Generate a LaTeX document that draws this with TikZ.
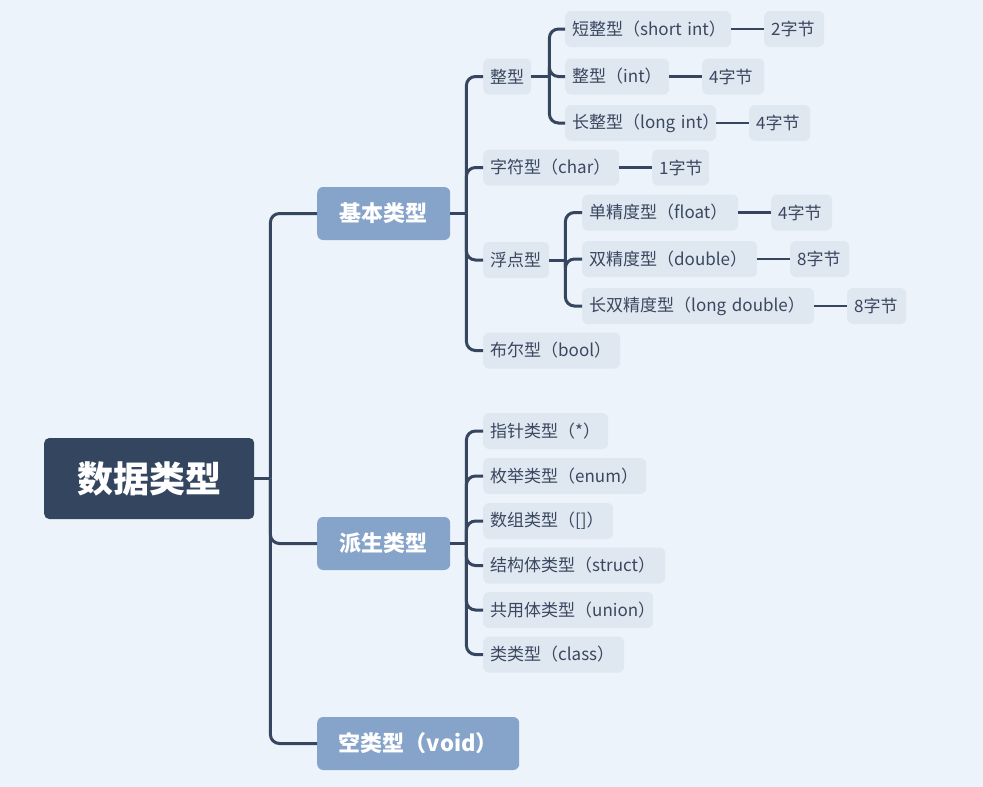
\documentclass[tikz,border=0pt]{standalone}
\usepackage{fontspec}
\setmainfont{Noto Sans CJK SC}
\definecolor{bgc}{HTML}{ECF3FA}
\definecolor{rootc}{HTML}{344560}
\definecolor{lonec}{HTML}{86A3C9}
\definecolor{ltwoc}{HTML}{DFE7F0}
\definecolor{txtc}{HTML}{3A4760}
\definecolor{linec}{HTML}{364660}
\begin{document}
\begin{tikzpicture}[x=1pt,y=-1pt,
  rootbox/.style={fill=rootc, rounded corners=5pt, text=white, font=\fontsize{36}{38}\selectfont\bfseries, minimum height=81pt, minimum width=210pt, anchor=west, inner sep=0pt},
  lonebox/.style={fill=lonec, rounded corners=6pt, text=white, font=\fontsize{22}{24}\selectfont\bfseries, minimum height=53pt, minimum width=#1, anchor=west, inner sep=0pt},
  ltwobox/.style={fill=ltwoc, rounded corners=6pt, text=txtc, font=\fontsize{17}{19}\selectfont, minimum height=36pt, text width=#1, align=left, anchor=west, inner xsep=7pt, inner ysep=0pt},
  conn/.style={draw=linec, line width=3pt, rounded corners=9pt},
  leafconn/.style={draw=linec, line width=2.5pt}]
\useasboundingbox[fill=bgc] (0,0) rectangle (983,787);

\node[rootbox] (root) at (44,478.5) {数据类型};
\node[lonebox=133pt] (b1) at (317,213.5) {基本类型};
\node[lonebox=133pt] (b2) at (317,543.5) {派生类型};
\node[lonebox=202pt] (b3) at (317,743.5) {空类型（void）};

\node[ltwobox=34pt] (c1) at (483,76.5) {整型};
\node[ltwobox=122pt] (c2) at (483,167.5) {字符型（char）};
\node[ltwobox=52pt] (c3) at (483,260) {浮点型};
\node[ltwobox=123pt] (c4) at (483,350.5) {布尔型（bool）};

\node[ltwobox=152pt] (d1) at (565,29) {短整型（short~int）};
\node[ltwobox=90pt] (d2) at (565,76.5) {整型（int）};
\node[ltwobox=137pt] (d3) at (565,123) {长整型（long~int）};
\node[ltwobox=46pt] (e1) at (764,29) {2字节};
\node[ltwobox=48pt] (e2) at (702,76.5) {4字节};
\node[ltwobox=47pt] (e3) at (749,123) {4字节};
\node[ltwobox=43pt] (e4) at (652,167.5) {1字节};

\node[ltwobox=142pt] (f1) at (582,212.5) {单精度型（float）};
\node[ltwobox=161pt] (f2) at (582,259) {双精度型（double）};
\node[ltwobox=218pt] (f3) at (582,306) {长双精度型（long~double）};
\node[ltwobox=47pt] (g1) at (771,212.5) {4字节};
\node[ltwobox=45pt] (g2) at (790,259) {8字节};
\node[ltwobox=45pt] (g3) at (847,306) {8字节};

\node[ltwobox=111pt] (h1) at (483,431) {指针类型（*）};
\node[ltwobox=149pt] (h2) at (483,476) {枚举类型（enum）};
\node[ltwobox=116pt] (h3) at (483,521) {数组类型（[]）};
\node[ltwobox=168pt] (h4) at (483,565.5) {结构体类型（struct）};
\node[ltwobox=156pt] (h5) at (483,610) {共用体类型（union）};
\node[ltwobox=127pt] (h6) at (483,654.5) {类类型（class）};

% root branches
\path (root.east) ++(16,0) coordinate (j0);
\draw[conn] (root.east) -- (j0);
\foreach \n in {b1,b2,b3} \draw[conn] (j0) |- (\n.west);

% basic types
\path (b1.east) ++(16,0) coordinate (j1);
\draw[conn] (b1.east) -- (j1);
\foreach \n in {c1,c2,c3,c4} \draw[conn] (j1) |- (\n.west);

\path (c1.east) ++(18,0) coordinate (j2);
\draw[conn] (c1.east) -- (j2);
\foreach \n in {d1,d2,d3} \draw[conn] (j2) |- (\n.west);
\draw[leafconn] (d1.east) -- (e1.west);
\draw[leafconn] (d2.east) -- (e2.west);
\draw[leafconn] (d3.east) -- (e3.west);
\draw[leafconn] (c2.east) -- (e4.west);

\path (c3.east) ++(16,0) coordinate (j3);
\draw[conn] (c3.east) -- (j3);
\foreach \n in {f1,f2,f3} \draw[conn] (j3) |- (\n.west);
\draw[leafconn] (f1.east) -- (g1.west);
\draw[leafconn] (f2.east) -- (g2.west);
\draw[leafconn] (f3.east) -- (g3.west);

% derived types
\path (b2.east) ++(16,0) coordinate (j4);
\draw[conn] (b2.east) -- (j4);
\foreach \n in {h1,h2,h3,h4,h5,h6} \draw[conn] (j4) |- (\n.west);
\end{tikzpicture}
\end{document}
